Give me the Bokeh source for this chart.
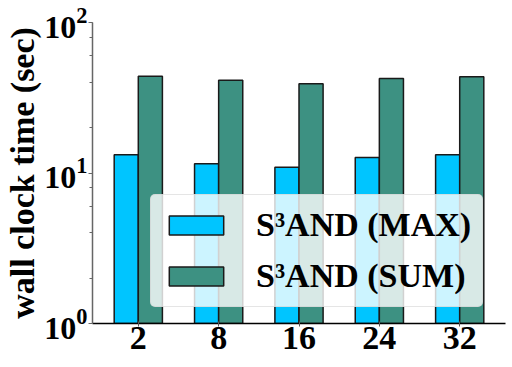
from bokeh.plotting import figure
from bokeh.models import ColumnDataSource, FactorRange, Range1d, LogTicker
from bokeh.transform import dodge
from bokeh.embed import file_html
from bokeh.resources import INLINE

categories = ["2", "8", "16", "24", "32"]
max_times = [13.2, 11.5, 10.9, 12.7, 13.2]
sum_times = [43.9, 41.3, 39.2, 42.4, 43.6]
series_labels = ["S\u00b3AND (MAX)", "S\u00b3AND (SUM)"]

src = ColumnDataSource(dict(cat=categories, mx=max_times, sm=sum_times))

FONT = "Liberation Serif"

p = figure(
    frame_width=413, frame_height=301,
    x_range=FactorRange(factors=categories, range_padding=0.07, range_padding_units="absolute"),
    y_range=Range1d(1, 100),
    y_axis_type="log",
    output_backend="svg", toolbar_location=None,
    min_border_left=92, min_border_right=7, min_border_top=22, min_border_bottom=44,
)

p.vbar(x=dodge("cat", -0.15, range=p.x_range), top="mx", bottom=1, width=0.3, source=src,
       fill_color="#00C5FF", line_color="#1a1a1a", line_width=1.5, legend_label=series_labels[0])
p.vbar(x=dodge("cat", 0.15, range=p.x_range), top="sm", bottom=1, width=0.3, source=src,
       fill_color="#3D9182", line_color="#1a1a1a", line_width=1.5, legend_label=series_labels[1])

p.outline_line_color = None
p.xgrid.grid_line_color = None
p.ygrid.grid_line_color = None

xa = p.xaxis[0]
xa.major_label_text_font = FONT
xa.major_label_text_font_style = "bold"
xa.major_label_text_font_size = "34px"
xa.major_label_text_color = "black"
xa.axis_line_color = "black"
xa.axis_line_width = 1.5
xa.major_tick_in = 2
xa.major_tick_out = 3
xa.major_tick_line_color = "#555555"
xa.minor_tick_line_color = None
xa.major_label_standoff = 0

ya = p.yaxis[0]
ya.ticker = LogTicker(desired_num_ticks=3)
ya.axis_label = "wall clock time (sec)"
ya.axis_label_text_font = FONT
ya.axis_label_text_font_style = "bold"
ya.axis_label_text_font_size = "34px"
ya.axis_label_text_color = "black"
ya.axis_label_standoff = 0
ya.major_label_text_font = FONT
ya.major_label_text_font_style = "bold"
ya.major_label_text_font_size = "32px"
ya.major_label_text_color = "black"
ya.axis_line_color = "#666666"
ya.axis_line_width = 1.5
ya.major_tick_in = 0
ya.major_tick_out = 4
ya.minor_tick_in = 0
ya.minor_tick_out = 3
ya.major_tick_line_color = "#666666"
ya.minor_tick_line_color = "#666666"
ya.major_label_standoff = 1

lg = p.legend[0]
lg.location = (58, 16)
lg.glyph_width = 68
lg.glyph_height = 24
lg.label_text_font = FONT
lg.label_text_font_style = "bold"
lg.label_text_font_size = "34px"
lg.label_text_color = "black"
lg.label_standoff = 26
lg.spacing = 13
lg.padding = 11
lg.margin = 0
lg.background_fill_color = "white"
lg.background_fill_alpha = 0.8
lg.border_line_color = "#cccccc"
lg.border_line_width = 1.5
try:
    lg.border_radius = 5
except Exception:
    pass

open("out.html", "w").write(file_html(p, INLINE))
